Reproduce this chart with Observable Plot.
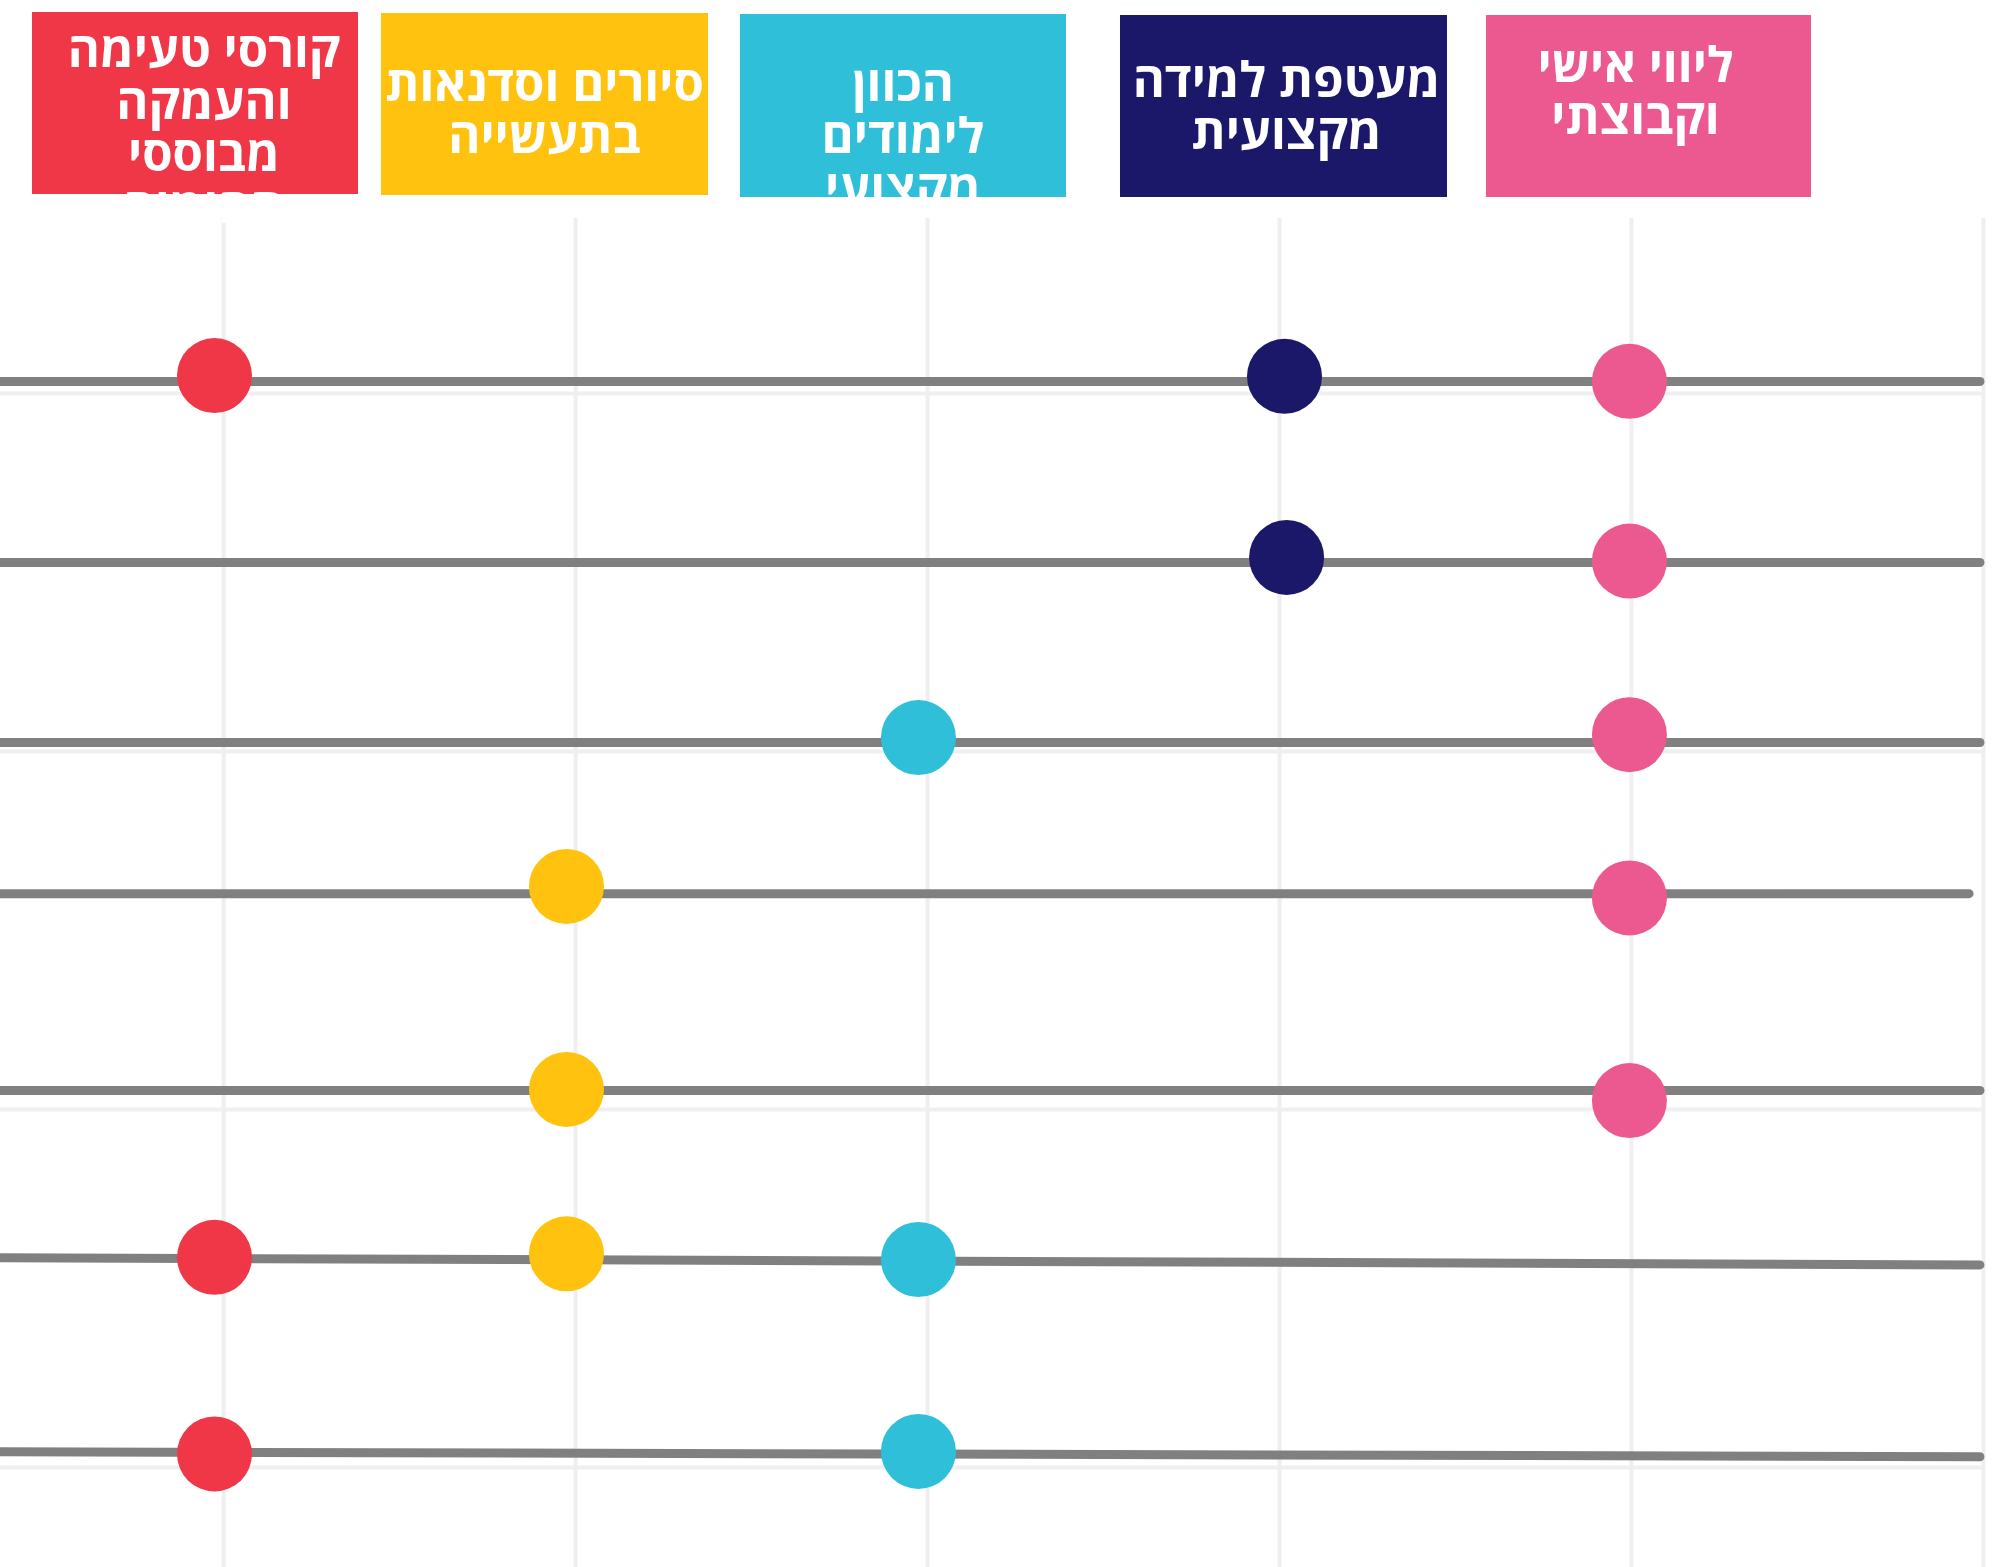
<!DOCTYPE html>
<html lang="he">
<head>
<meta charset="utf-8">
<script src="https://cdn.jsdelivr.net/npm/d3@7"></script>
<script src="https://cdn.jsdelivr.net/npm/@observablehq/plot@0.6"></script>
<style>
  html, body { margin: 0; padding: 0; background: #ffffff; }
  #header { position: relative; width: 1999px; height: 210px; }
  .box { position: absolute; box-sizing: border-box; color: #ffffff; text-align: center;
         font-family: "Open Sans", "DejaVu Sans", "Liberation Sans", sans-serif; font-weight: 700;
         font-size: 49px; line-height: 52px; direction: rtl; white-space: nowrap; overflow: visible; }
  .box .ln { display: block; }
  #chart svg { display: block; }
</style>
</head>
<body>
<div id="header"></div>
<div id="chart"></div>
<script>
// ---- Data ----
// Header categories (each split into the lines shown in the reference)
const categories = ["קורסי טעימה והעמקה", "סיורים וסדנאות", "הכוון לימודים", "מעטפת למידה", "ליווי אישי"];
const categoryLines = [
  ["קורסי טעימה", "והעמקה", "מבוססי", "תחומים"],
  ["סיורים וסדנאות", "בתעשייה"],
  ["הכוון", "לימודים", "מקצועי"],
  ["מעטפת למידה", "מקצועית"],
  ["ליווי אישי", "וקבוצתי"]
];
const categoryColors = ["#EF3748", "#FFC20E", "#2FBFD9", "#1B186A", "#EC5991"];

// Grid positions (column ticks and row ticks)
const xTicks = [0, 1, 2, 3, 4, 5];
const yTicks = [0, 1, 2, 3];

// Row lines: start/end positions
const rowX1 = [-0.65, -0.65, -0.65, -0.65, -0.65, -0.65, -0.65];
const rowX2 = [4.99, 4.99, 4.99, 4.959, 4.99, 4.99, 4.99];
const rowY1 = [-0.0335, 0.472, 0.975, 1.397, 1.947, 2.414, 2.956];
const rowY2 = [-0.0335, 0.472, 0.975, 1.397, 1.947, 2.434, 2.970];

// Dots: category index, x, y
const dotCat = [0, 3, 4,   3, 4,   2, 4,   1, 4,   1, 4,   0, 1, 2,   0, 2];
const dotX   = [-0.026, 3.014, 3.994,  3.020, 3.994,  1.974, 3.994,  0.974, 3.994,  0.974, 3.994,  -0.026, 0.974, 1.974,  -0.026, 1.974];
const dotY   = [-0.050, -0.048, -0.034,  0.458, 0.468,  0.961, 0.953,  1.377, 1.409,  1.944, 1.975,  2.413, 2.403, 2.419,  2.962, 2.955];

// ---- Header boxes ----
const boxLayout = [
  {left: 32,   top: 12, width: 326, height: 182, pad: 10, shift: 9},
  {left: 381,  top: 13, width: 327, height: 182, pad: 43, shift: 0},
  {left: 740,  top: 14, width: 326, height: 183, pad: 42, shift: 0},
  {left: 1120, top: 15, width: 327, height: 182, pad: 37, shift: 3},
  {left: 1486, top: 15, width: 325, height: 182, pad: 22, shift: -13}
];
const header = document.getElementById("header");
categories.forEach((c, i) => {
  const b = boxLayout[i];
  const d = document.createElement("div");
  d.className = "box";
  d.title = c;
  Object.assign(d.style, {left: b.left + "px", top: b.top + "px", width: b.width + "px",
    height: b.height + "px", paddingTop: b.pad + "px", background: categoryColors[i]});
  categoryLines[i].forEach(t => {
    const s = document.createElement("span");
    s.className = "ln";
    s.style.position = "relative";
    s.style.left = b.shift + "px";
    s.textContent = t;
    d.appendChild(s);
  });
  header.appendChild(d);
});

// ---- Chart ----
const rows = rowY1.map((y, i) => ({x1: rowX1[i], x2: rowX2[i], y1: y, y2: rowY2[i]}));
const dots = dotX.map((x, i) => ({x, y: dotY[i], cat: categories[dotCat[i]]}));

const chart = Plot.plot({
  width: 1999,
  height: 1357,
  marginTop: 8,
  marginRight: 16,
  marginBottom: 0,
  marginLeft: 0,
  x: {domain: [-0.634, 5], axis: null},
  y: {domain: [-0.4888, 3.2793], reverse: true, axis: null},
  color: {domain: categories, range: categoryColors},
  marks: [
    Plot.gridX(xTicks, {stroke: "#efefef", strokeOpacity: 1, strokeWidth: 4}),
    Plot.gridY(yTicks, {stroke: "#efefef", strokeOpacity: 1, strokeWidth: 4}),
    Plot.link(rows, {x1: "x1", y1: "y1", x2: "x2", y2: "y2", stroke: "#808080", strokeWidth: 9, strokeLinecap: "round"}),
    Plot.dot(dots, {x: "x", y: "y", r: 37.5, fill: "cat", stroke: null})
  ]
});
document.getElementById("chart").appendChild(chart);
</script>
</body>
</html>
